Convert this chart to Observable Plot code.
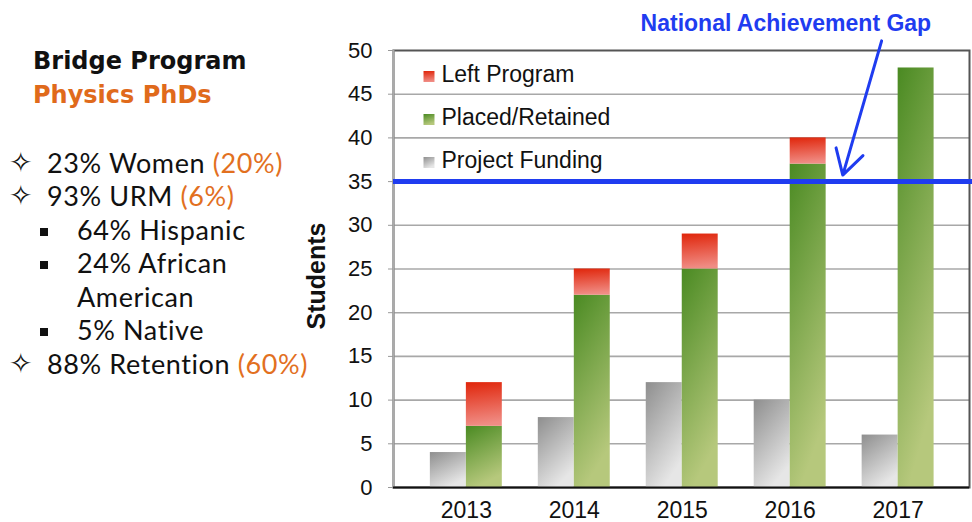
<!DOCTYPE html>
<html>
<head>
<meta charset="utf-8">
<script src="https://cdn.jsdelivr.net/npm/d3@7"></script>
<script src="https://cdn.jsdelivr.net/npm/@observablehq/plot@0.6"></script>
<style>
  html, body { margin: 0; padding: 0; background: #fff; }
  body { width: 972px; height: 522px; position: relative; overflow: hidden; }
  #left { position: absolute; left: 0; top: 0; z-index: 2; font-family: Lato, "Open Sans", sans-serif; color: #111; }
  .title { position: absolute; left: 33px; font-family: "DejaVu Sans", sans-serif; font-weight: 700; font-size: 24px; line-height: 34px; white-space: nowrap; }
  .line { position: absolute; font-size: 27px; letter-spacing: 0.6px; line-height: 33.5px; white-space: nowrap; }
  .star { position: absolute; left: 9px; top: 1px; font-family: "DejaVu Sans", sans-serif; font-size: 28px; line-height: 32px; letter-spacing: 0; }
  .sq { position: absolute; left: 40px; width: 8px; height: 8px; background: #111; top: 15px; }
  .orange { color: #e2701f; }
  #chart { position: absolute; left: 292px; top: 0; z-index: 1; }
</style>
</head>
<body>
<div id="left"></div>
<div id="chart"></div>
<script>
// ---- data ----
const years = [2013, 2014, 2015, 2016, 2017];
const projectFunding = [4, 8, 12, 10, 6];
const placedRetained = [7, 22, 25, 37, 48];
const leftProgram = [5, 3, 4, 3, 0];
const yTicks = [0, 5, 10, 15, 20, 25, 30, 35, 40, 45, 50];
const gapValue = [35];
const legendLabels = ["Left Program", "Placed/Retained", "Project Funding"];
const yLabel = "Students";
const annotationLabel = ["National Achievement Gap"];
const annotationText = [{x: 2015.96, y: 53.13}];
const annotationArrow = [{x1: 2016.847, y1: 51.1, x2: 2016.487, y2: 35.75}];

const titleLines = [
  {text: "Bridge Program", color: "#111"},
  {text: "Physics PhDs", color: "#e06a1b"}
];
const bulletLines = [
  {kind: "star", text: "23% Women ", note: "(20%)"},
  {kind: "star", text: "93% URM ", note: "(6%)"},
  {kind: "square", text: "64% Hispanic", note: ""},
  {kind: "square", text: "24% African", note: ""},
  {kind: "none", text: "American", note: ""},
  {kind: "square", text: "5% Native", note: ""},
  {kind: "star", text: "88% Retention ", note: "(60%)"}
];

// ---- left text panel ----
const left = document.getElementById("left");
titleLines.forEach((t, i) => {
  const d = document.createElement("div");
  d.className = "title";
  d.style.top = (43.5 + i * 34) + "px";
  d.style.color = t.color;
  d.textContent = t.text;
  left.appendChild(d);
});
bulletLines.forEach((b, i) => {
  const d = document.createElement("div");
  d.className = "line";
  d.style.top = (145.8 + i * 33.5) + "px";
  d.style.left = "0px";
  d.style.width = "330px";
  d.style.height = "33.5px";
  if (b.kind === "star") {
    const s = document.createElement("span");
    s.className = "star";
    s.textContent = "\u2727";
    d.appendChild(s);
  } else if (b.kind === "square") {
    const s = document.createElement("span");
    s.className = "sq";
    d.appendChild(s);
  }
  const t = document.createElement("span");
  t.style.position = "absolute";
  t.style.left = (b.kind === "star" ? 47 : 77) + "px";
  t.textContent = b.text;
  if (b.note) {
    const n = document.createElement("span");
    n.className = "orange";
    n.textContent = b.note;
    t.appendChild(n);
  }
  d.appendChild(t);
  left.appendChild(d);
});

// ---- chart ----
const rows = years.map((year, i) => ({
  year, funding: projectFunding[i], placed: placedRetained[i], left: leftProgram[i]
}));
const blue = "#1f3cf0";

const legendMarks = legendLabels.flatMap((label, i) => {
  const fill = ["url(#gRed)", "url(#gGreen)", "url(#gGray)"][i];
  return [
    Plot.dot([label], {frameAnchor: "top-left", dx: 35.5, dy: 26 + 43 * i, symbol: "square", r: 6.2, fill, stroke: "none"}),
    Plot.text([label], {frameAnchor: "top-left", dx: 48, dy: 24.5 + 43 * i, text: d => d, textAnchor: "start", lineAnchor: "middle", fontSize: 23, fill: "#111"})
  ];
});

const chart = Plot.plot({
  width: 680,
  height: 522,
  marginLeft: 101,
  marginRight: 3,
  marginTop: 50,
  marginBottom: 35,
  x: {type: "linear", domain: [2012.325, 2017.661], axis: null},
  y: {domain: [0, 50], axis: null},
  style: {fontFamily: "'Liberation Sans', Arial, Helvetica, sans-serif", background: "transparent", overflow: "visible"},
  marks: [
    Plot.gridY(yTicks.slice(1, -1), {stroke: "#a8a8a8", strokeOpacity: 1, strokeWidth: 1.6}),
    Plot.frame({stroke: "#555", strokeWidth: 2}),
    Plot.frame({anchor: "left", stroke: "#aaa", strokeWidth: 2}),
    Plot.rectY(rows, {x: "year", y: "funding", interval: 1, dx: -36, insetRight: 72, fill: "url(#gGray)"}),
    Plot.rectY(rows, {x: "year", y: "placed", interval: 1, insetRight: 72, fill: "url(#gGreen)"}),
    Plot.rectY(rows.filter(d => d.left > 0), {x: "year", y1: "placed", y2: d => d.placed + d.left, interval: 1, insetRight: 72, fill: "url(#gRed)"}),
    Plot.ruleY([0], {stroke: "#111", strokeWidth: 2}),
    Plot.axisY(yTicks, {tickSize: 5, tickPadding: 16, fontSize: 22, stroke: "#999", fill: "#111", label: null}),
    Plot.axisX(years, {tickFormat: d => String(d), tickSize: 0, tickPadding: 14, fontSize: 23, fill: "#111", label: null}),
    Plot.text([yLabel], {frameAnchor: "left", dx: -77, dy: 7, rotate: -90, text: d => d, textAnchor: "middle", lineAnchor: "middle", fontSize: 25, letterSpacing: "2.5px", fontWeight: "bold", fill: "#111"}),
    ...legendMarks,
    Plot.ruleY(gapValue, {stroke: blue, strokeWidth: 5, insetRight: -3}),
    Plot.text(annotationText, {x: "x", y: "y", text: () => annotationLabel[0], fontSize: 23, fontWeight: "bold", fill: blue}),
    Plot.arrow(annotationArrow, {x1: "x1", y1: "y1", x2: "x2", y2: "y2", stroke: blue, strokeWidth: 3, headLength: 14})
  ]
});

const defs = d3.select(chart).insert("defs", ":first-child");
function grad(id, c0, c1, x2) {
  const g = defs.append("linearGradient").attr("id", id)
    .attr("x1", 0).attr("y1", 0).attr("x2", x2).attr("y2", 1);
  g.append("stop").attr("offset", 0).attr("stop-color", c0);
  g.append("stop").attr("offset", 1).attr("stop-color", c1);
}
grad("gGray", "#8e8e8e", "#e6e6e6", 0.5);
grad("gGreen", "#4a8a22", "#b6c87c", 0.3);
grad("gRed", "#e0250a", "#f08c84", 0.1);

document.getElementById("chart").appendChild(chart);
</script>
</body>
</html>
